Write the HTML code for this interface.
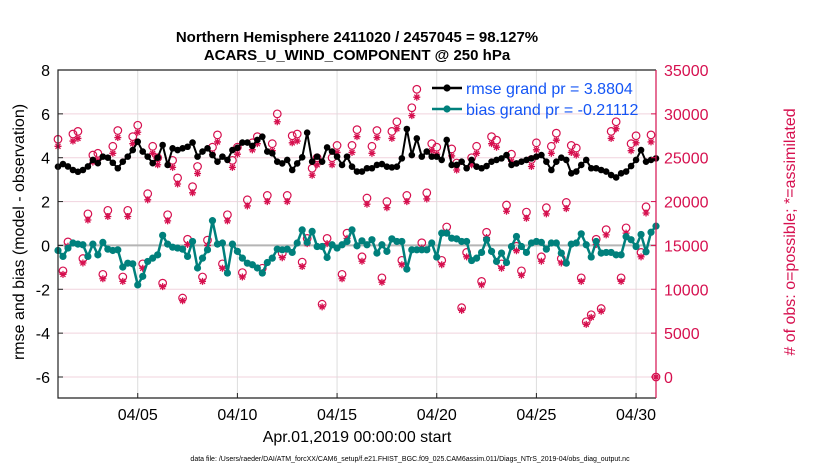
<!DOCTYPE html>
<html><head><meta charset="utf-8"><style>
html,body{margin:0;padding:0;background:#fff;}
svg{display:block;font-family:"Liberation Sans",Arial,sans-serif;}
</style></head><body>
<svg id="chart" width="830" height="470" viewBox="0 0 830 470" xmlns="http://www.w3.org/2000/svg">
<text x="357" y="42" text-anchor="middle" font-size="15" font-weight="bold">Northern Hemisphere 2411020 / 2457045 = 98.127%</text>
<text x="357" y="60" text-anchor="middle" font-size="15" font-weight="bold">ACARS_U_WIND_COMPONENT @ 250 hPa</text>
<g id="grid"></g>
<g id="obs"></g>
<g id="lines"></g>
<g id="axes"></g>
<text transform="translate(24,232) rotate(-90)" text-anchor="middle" font-size="16">rmse and bias (model - observation)</text>
<text transform="translate(795,232) rotate(-90)" text-anchor="middle" font-size="16" fill="#d6104f"># of obs: o=possible; *=assimilated</text>
<text x="357" y="442" text-anchor="middle" font-size="16">Apr.01,2019 00:00:00 start</text>
<text x="410" y="461" text-anchor="middle" font-size="7">data file: /Users/raeder/DAI/ATM_forcXX/CAM6_setup/f.e21.FHIST_BGC.f09_025.CAM6assim.011/Diags_NTrS_2019-04/obs_diag_output.nc</text>
<g id="legend"></g>
</svg>
<script>
const rmse=[3.59,3.71,3.6,3.44,3.36,3.44,3.6,3.9,3.75,4.05,4.0,3.77,3.52,3.82,4.05,4.35,4.73,4.28,4.05,3.75,4.0,4.58,3.67,4.43,4.35,4.43,4.5,4.69,4.05,4.28,4.43,4.12,3.82,4.05,3.9,4.35,4.45,4.69,4.69,4.54,
4.81,4.96,4.28,4.2,3.82,3.74,3.9,3.44,3.74,4.02,5.14,3.82,4.05,3.82,4.47,4.28,4.05,3.67,4.05,3.59,3.37,3.37,3.52,3.52,3.67,3.71,3.59,3.56,3.59,3.97,5.31,4.12,4.88,4.05,4.28,4.05,4.05,3.9,4.81,
3.67,3.67,3.82,3.52,3.9,3.59,3.52,3.62,3.82,3.9,3.97,4.12,3.67,3.74,3.82,3.9,3.97,4.05,4.12,3.82,3.44,3.82,4.0,3.9,3.29,3.37,3.67,3.9,3.52,3.52,3.44,3.37,3.21,3.1,3.29,3.37,3.62,3.9,4.35,3.82,3.9,3.97];
const bias=[-0.23,-0.5,-0.12,0.11,0.06,0.03,-0.5,0.06,-0.43,0.14,-0.17,-0.23,-0.2,-0.99,-0.81,-0.84,-1.8,-1.41,-0.73,-0.58,-0.43,0.46,0.06,-0.08,-0.12,-0.17,-0.5,0.18,-1.03,-0.58,-0.2,1.13,0.06,0.11,-1.26,0.06,-0.27,-0.58,-0.81,-0.88,
-1.03,-1.26,-0.78,-0.58,-0.17,-0.2,-0.17,-0.32,0.11,0.71,0.14,0.64,-0.05,-0.05,-0.55,0.03,-0.12,0.03,0.18,0.71,-0.02,0.21,0.03,0.26,-0.35,0.03,-0.27,0.3,0.18,0.18,-1.08,-0.2,-0.2,-0.2,-0.2,0.11,-0.53,0.56,0.56,
0.33,0.3,0.18,0.18,-0.69,-0.58,-0.32,0.26,-0.27,-0.73,-0.35,-0.78,-0.05,0.41,-0.05,-0.32,0.11,0.18,0.14,-0.17,0.11,0.11,-0.35,-0.81,0.06,0.11,0.53,0.03,-0.53,0.18,-0.35,-0.32,-0.32,-0.43,-0.43,0.4,0.26,-0.05,0.5,-0.29,0.6,0.88];
const obsPossible=[27.1,12.1,15.4,27.7,28.0,13.5,18.6,25.3,25.5,11.7,19.0,26.3,28.1,11.4,19.0,27.4,28.7,12.9,20.9,26.3,25.0,10.7,18.5,24.7,22.7,9.0,15.7,21.7,24.0,11.4,15.6,26.2,27.6,12.9,18.5,24.7,26.2,11.9,20.2,26.7,
27.4,12.4,20.7,26.6,30.0,14.1,20.7,27.5,27.7,13.1,15.8,23.8,25.0,8.3,15.8,25.0,26.4,11.7,16.4,26.4,28.2,13.7,20.4,26.3,28.1,11.3,20.0,28.0,29.1,13.3,20.7,30.7,32.8,15.3,21.0,26.6,26.2,13.3,17.1,
26.0,24.4,7.9,14.2,25.0,26.3,10.9,16.5,27.4,27.0,12.9,19.6,25.4,14.9,12.1,18.8,24.8,26.7,13.7,19.3,26.3,27.8,13.5,19.9,26.4,26.1,11.3,6.3,7.1,15.7,7.8,16.8,28.0,29.1,11.3,17.0,26.6,27.5,14.2,19.4,27.6,0];
const obsAssim=[26.3,11.7,14.9,26.9,27.2,13.0,17.9,24.5,24.7,11.2,18.3,25.5,27.3,10.9,18.3,26.6,27.9,12.4,20.2,25.5,24.2,10.3,17.8,23.9,22.0,8.7,15.1,21.0,23.2,10.9,15.0,25.4,26.8,12.4,17.8,23.9,25.4,11.4,19.5,25.9,
26.6,11.9,20.0,25.8,29.1,13.6,20.0,26.7,26.9,12.6,15.2,23.0,24.2,8.0,15.2,24.2,25.6,11.2,15.8,25.6,27.4,13.2,19.7,25.5,27.3,10.8,19.3,27.2,28.3,12.8,20.0,29.8,31.9,14.7,20.3,25.8,25.4,12.8,16.5,
25.2,23.6,7.6,13.7,24.2,25.5,10.5,15.9,26.6,26.2,12.4,18.9,24.6,14.4,11.6,18.1,24.0,25.9,13.2,18.6,25.5,27.0,13.0,19.2,25.6,25.3,10.9,6.0,6.8,15.1,7.5,16.2,27.2,28.3,10.9,16.4,25.8,26.7,13.7,18.7,26.8,0];
const leftTicks=[8,6,4,2,0,-2,-4,-6];
const rightTicks=[35000,30000,25000,20000,15000,10000,5000,0];
const xTickDays=[4,9,14,19,24,29];
const xTickLabels=["04/05","04/10","04/15","04/20","04/25","04/30"];
const stepDays=0.25;

const NS="http://www.w3.org/2000/svg";
const X0=58,X1=656,Y0=70,Y1=398;
const RED="#d6104f",TEAL="#00807c";
function xs(d){return X0+(X1-X0)*d/30;}
function yl(v){return Y0+(8-v)*(377-70)/14;}
function yr(c){return 377-(c/35000)*(377-70);}
function mk(tag,attrs,parent){const e=document.createElementNS(NS,tag);for(const k in attrs)e.setAttribute(k,attrs[k]);parent.appendChild(e);return e;}
const grid=document.getElementById('grid'),axes=document.getElementById('axes'),obsG=document.getElementById('obs'),lines=document.getElementById('lines'),leg=document.getElementById('legend');

mk('rect',{x:X0,y:Y0,width:X1-X0,height:Y1-Y0,fill:'#fff'},grid);
leftTicks.forEach(v=>{
  const l=mk('line',{x1:X0,x2:X1,y1:yl(v),y2:yl(v),stroke:'#f1d3de','stroke-width':1},grid);
  
  
  const t=mk('text',{x:X0-8,y:yl(v)+6,'text-anchor':'end','font-size':16},axes);
  t.textContent=v;
  
  
  mk('line',{x1:X0,x2:X0+5,y1:yl(v),y2:yl(v),stroke:'#222'},axes);
});
xTickDays.forEach((d,i)=>{
  const l=mk('line',{x1:xs(d),x2:xs(d),y1:Y0,y2:Y1,stroke:'#dcdcdc','stroke-width':1},grid);
  
  
  mk('line',{x1:xs(d),x2:xs(d),y1:Y1,y2:Y1-5,stroke:'#222'},axes);
  const t=mk('text',{x:xs(d),y:420,'text-anchor':'middle','font-size':16},axes);
  t.textContent=xTickLabels[i];
  
  
});
rightTicks.forEach(c=>{
  mk('line',{x1:X1,x2:X1-5,y1:yr(c),y2:yr(c),stroke:RED},axes);
  const t=mk('text',{x:X1+8,y:yr(c)+6,'font-size':16,fill:RED},axes);
  t.textContent=c;
  
  
});
mk('path',{d:`M${X1},${Y0}H${X0}V${Y1}H${X1}`,fill:'none',stroke:'#222','stroke-width':1.2},axes);
mk('line',{x1:X1,x2:X1,y1:Y0,y2:Y1,stroke:RED,'stroke-width':1.2},axes);

const z=mk('line',{x1:X0,x2:X1,y1:yl(0),y2:yl(0),stroke:'#b5b5b5','stroke-width':2},obsG);



const n=Math.min(obsPossible.length,obsAssim.length);
for(let i=0;i<n;i++){
  const x=xs(i*stepDays);
  const a=mk('path',{d:'',stroke:RED,'stroke-width':1.3,fill:'none'},obsG);
  const ya=yr(obsAssim[i]*1000),r=3.5;
  a.setAttribute('d',`M${x-r},${ya}H${x+r}M${x},${ya-r}V${ya+r}M${x-2.5},${ya-2.5}L${x+2.5},${ya+2.5}M${x-2.5},${ya+2.5}L${x+2.5},${ya-2.5}`);
  
  
  const c=mk('circle',{cx:x,cy:yr(obsPossible[i]*1000),r:3.8,fill:'none',stroke:RED,'stroke-width':1.2},obsG);
  
  
}
function series(vals,color,w,r,name){
  const pts=vals.map((v,i)=>[xs(i*stepDays),yl(v)]);
  const p=mk('polyline',{points:pts.map(q=>q.join(',')).join(' '),fill:'none',stroke:color,'stroke-width':w,'stroke-linejoin':'round'},lines);
  
  
  pts.forEach(q=>{
    const c=mk('circle',{cx:q[0],cy:q[1],r:r,fill:color},lines);
    
    
  });
}
series(bias,TEAL,2.5,3.6,'bias');
series(rmse,'#000',2,3.3,'rmse');

[['#000','rmse grand pr = 3.8804',88,'legend-rmse'],[TEAL,'bias grand pr = -0.21112',109,'legend-bias']].forEach(e=>{
  const g=mk('g',{},leg);
  
  
  mk('line',{x1:432,x2:462,y1:e[2],y2:e[2],stroke:e[0],'stroke-width':2.5},g);
  mk('circle',{cx:447,cy:e[2],r:3.6,fill:e[0]},g);
  const t=mk('text',{x:466,y:e[2]+6,'font-size':16,fill:'#1455f5'},g);
  t.textContent=e[1];
});
</script>
</body></html>
